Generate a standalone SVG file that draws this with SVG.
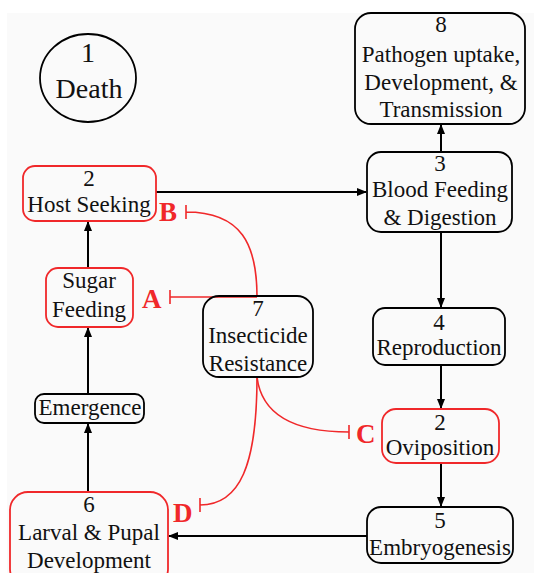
<svg xmlns="http://www.w3.org/2000/svg" width="534" height="573" viewBox="0 0 534 573">
<defs>
<style>
.n{fill:none;stroke:#000;stroke-width:1.8}
.r{fill:none;stroke:#f0282a;stroke-width:1.8}
.t{font-family:"Liberation Serif","Times New Roman",serif;font-size:23px;fill:#111;text-anchor:middle}
.l{font-family:"Liberation Serif","Times New Roman",serif;font-size:27px;font-weight:bold;fill:#f0282a}
.c{fill:none;stroke:#000;stroke-width:2}
.i{fill:none;stroke:#f0282a;stroke-width:1.6}
</style>
<marker id="ah" markerWidth="10" markerHeight="10" refX="9" refY="5" orient="auto" markerUnits="userSpaceOnUse">
<path d="M0,1 L10,5 L0,9 Z" fill="#000"/>
</marker>
</defs>
<rect x="0" y="0" width="534" height="573" fill="#fff"/>
<rect x="7" y="13" width="527" height="560" fill="#fafafa"/>

<g id="connectors">
<line class="c" x1="441" y1="152" x2="441" y2="125" marker-end="url(#ah)"/>
<line class="c" x1="156" y1="192" x2="366" y2="192" marker-end="url(#ah)"/>
<line class="c" x1="441" y1="232" x2="441" y2="307" marker-end="url(#ah)"/>
<line class="c" x1="441" y1="365" x2="441" y2="408" marker-end="url(#ah)"/>
<line class="c" x1="441" y1="463" x2="441" y2="506" marker-end="url(#ah)"/>
<line class="c" x1="367" y1="536" x2="169" y2="536" marker-end="url(#ah)"/>
<line class="c" x1="88" y1="492" x2="88" y2="424" marker-end="url(#ah)"/>
<line class="c" x1="88" y1="394" x2="88" y2="328" marker-end="url(#ah)"/>
<line class="c" x1="88" y1="268" x2="88" y2="222" marker-end="url(#ah)"/>
<g id="inhibitors">
<path class="i" d="M257,297 L170,297 M170,290 L170,304"/>
<path class="i" d="M257,297 C257,245 242,212 186,212 M186,205 L186,219"/>
<path class="i" d="M257,377 C262,418 300,432 349,432 M349,425 L349,439"/>
<path class="i" d="M257,377 C257,465 240,505 200,505 M200,498 L200,512"/>
</g>
</g>

<g id="node1">
<ellipse class="n" cx="88" cy="78" rx="48" ry="44"/>
<text class="t" x="88" y="62" font-size="28" style="font-size:28px">1</text>
<text class="t" x="89" y="98" style="font-size:28px">Death</text>
</g>
<g id="node8">
<rect class="n" x="355" y="13" width="170" height="111" rx="16"/>
<text class="t" x="441" y="32">8</text>
<text class="t" x="441" y="62">Pathogen uptake,</text>
<text class="t" x="441" y="90">Development, &amp;</text>
<text class="t" x="441" y="117">Transmission</text>
</g>
<g id="node3">
<rect class="n" x="367" y="152" width="145" height="80" rx="14"/>
<text class="t" x="440" y="171">3</text>
<text class="t" x="440" y="197">Blood Feeding</text>
<text class="t" x="440" y="225">&amp; Digestion</text>
</g>
<g id="node2host">
<rect class="r" x="23" y="166" width="133" height="55" rx="12"/>
<text class="t" x="89" y="186">2</text>
<text class="t" x="89" y="212">Host Seeking</text>
</g>
<g id="nodeSugar">
<rect class="r" x="46" y="268" width="87" height="59" rx="12"/>
<text class="t" x="89" y="288">Sugar</text>
<text class="t" x="89" y="317">Feeding</text>
</g>
<g id="node7">
<rect class="n" x="203" y="296" width="110" height="81" rx="16"/>
<text class="t" x="258" y="316">7</text>
<text class="t" x="258" y="343">Insecticide</text>
<text class="t" x="258" y="371">Resistance</text>
</g>
<g id="node4">
<rect class="n" x="373" y="308" width="132" height="57" rx="12"/>
<text class="t" x="439" y="330">4</text>
<text class="t" x="439" y="355">Reproduction</text>
</g>
<g id="nodeEmergence">
<rect class="n" x="35" y="394" width="109" height="29" rx="9"/>
<text class="t" x="90" y="415">Emergence</text>
</g>
<g id="node2ovi">
<rect class="r" x="382" y="409" width="117" height="54" rx="14"/>
<text class="t" x="440" y="430">2</text>
<text class="t" x="440" y="455">Oviposition</text>
</g>
<g id="node5">
<rect class="n" x="367" y="507" width="146" height="56" rx="14"/>
<text class="t" x="440" y="528">5</text>
<text class="t" x="440" y="555">Embryogenesis</text>
</g>
<g id="node6">
<rect class="r" x="10" y="492" width="158" height="95" rx="18"/>
<text class="t" x="89" y="512">6</text>
<text class="t" x="89" y="540">Larval &amp; Pupal</text>
<text class="t" x="89" y="568">Development</text>
</g>
<g id="labels">
<text class="l" x="142" y="308">A</text>
<text class="l" x="159" y="221">B</text>
<text class="l" x="356" y="443">C</text>
<text class="l" x="173" y="522">D</text>
</g>
</svg>
